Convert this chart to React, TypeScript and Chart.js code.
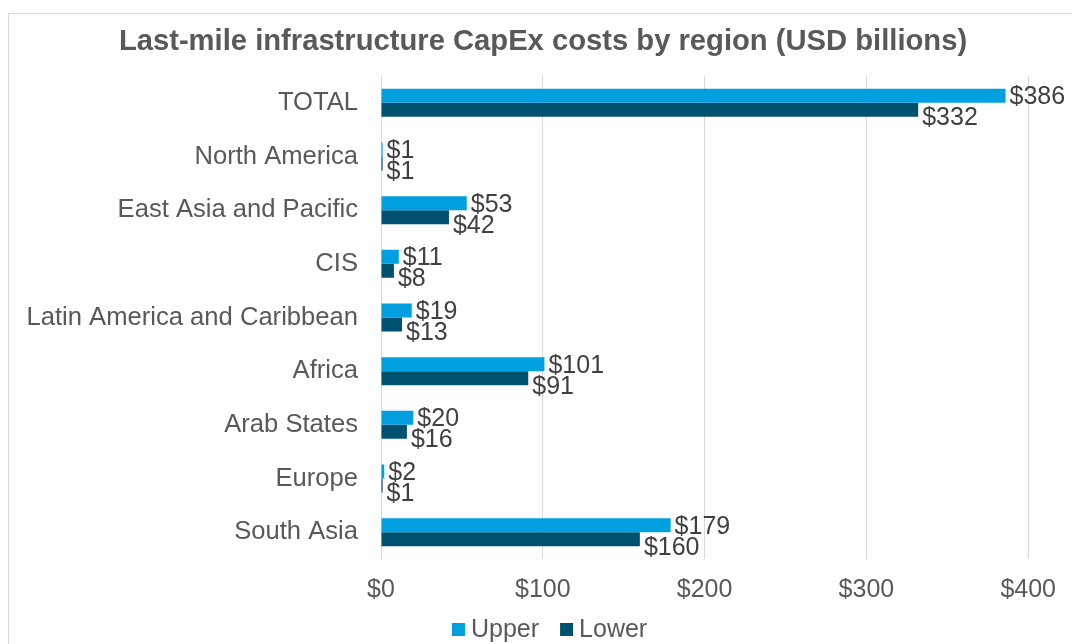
import React, { useEffect, useRef } from "react";
import { Chart, registerables } from "chart.js";

Chart.register(...registerables);

const categories = [
  "TOTAL",
  "North America",
  "East Asia and Pacific",
  "CIS",
  "Latin America and Caribbean",
  "Africa",
  "Arab States",
  "Europe",
  "South Asia",
];
const upperValues = [386, 1, 53, 11, 19, 101, 20, 2, 179];
const lowerValues = [332, 1, 42, 8, 13, 91, 16, 1, 160];
const seriesNames = ["Upper", "Lower"];
const seriesColors = ["#009FDF", "#00506F"];
const chartTitle = "Last-mile infrastructure CapEx costs by region (USD billions)";
const xMin = 0;
const xMax = 400;
const xStep = 100;

const FONT = "'Liberation Sans', Arial, sans-serif";

const framePlugin = {
  id: "frame",
  beforeDraw(chart: any) {
    const ctx = chart.ctx;
    ctx.save();
    ctx.strokeStyle = "#D9D9D9";
    ctx.lineWidth = 1;
    ctx.strokeRect(8.5, 13.5, chart.width + 20, chart.height + 20);
    ctx.font = `bold 29.2px ${FONT}`;
    ctx.fillStyle = "#595959";
    ctx.textAlign = "center";
    ctx.textBaseline = "middle";
    ctx.fillText(chartTitle, 543, 42);
    ctx.restore();
  },
};

const labelPlugin = {
  id: "barLabels",
  afterDatasetsDraw(chart: any) {
    const ctx = chart.ctx;
    ctx.save();
    ctx.font = `25px ${FONT}`;
    ctx.fillStyle = "#404040";
    ctx.textAlign = "left";
    ctx.textBaseline = "middle";
    chart.data.datasets.forEach((ds: any, di: number) => {
      const meta = chart.getDatasetMeta(di);
      const dy = di === 0 ? 1.5 : 8.5;
      meta.data.forEach((bar: any, i: number) => {
        ctx.fillText("$" + ds.data[i], bar.x + 4, bar.y + dy);
      });
    });
    ctx.restore();
  },
};

const legendPlugin = {
  id: "customLegend",
  afterDraw(chart: any) {
    const ctx = chart.ctx;
    ctx.save();
    ctx.font = `25px ${FONT}`;
    ctx.textBaseline = "middle";
    ctx.textAlign = "left";
    let x = 452;
    const y = 630;
    seriesNames.forEach((name, i) => {
      ctx.fillStyle = seriesColors[i];
      ctx.fillRect(x, y - 7, 13, 13);
      ctx.fillStyle = "#595959";
      ctx.fillText(name, x + 19, y);
      x += 19 + ctx.measureText(name).width + 21;
    });
    ctx.restore();
  },
};

export default function App() {
  const ref = useRef<HTMLCanvasElement | null>(null);
  useEffect(() => {
    if (!ref.current) return;
    const chart = new Chart(ref.current, {
      type: "bar",
      data: {
        labels: categories,
        datasets: [
          {
            label: seriesNames[0],
            data: upperValues,
            backgroundColor: seriesColors[0],
            borderWidth: 0,
            barPercentage: 1,
            categoryPercentage: 0.522,
          },
          {
            label: seriesNames[1],
            data: lowerValues,
            backgroundColor: seriesColors[1],
            borderWidth: 0,
            barPercentage: 1,
            categoryPercentage: 0.522,
          },
        ],
      },
      options: {
        indexAxis: "y",
        responsive: false,
        animation: false,
        layout: { padding: { left: 12, right: 40, top: 76, bottom: 0 } },
        plugins: {
          legend: { display: false },
          tooltip: { enabled: false },
          title: { display: false },
        },
        scales: {
          x: {
            min: xMin,
            max: xMax,
            ticks: {
              stepSize: xStep,
              color: "#595959",
              font: { family: FONT, size: 25 },
              padding: 16,
              callback: (v: any) => "$" + v,
            },
            grid: { color: "#D9D9D9", drawTicks: false, tickLength: 0 },
            border: { display: false },
            afterFit: (s: any) => {
              s.height = 85;
            },
          },
          y: {
            ticks: {
              color: "#595959",
              font: { family: FONT, size: 25.6 },
              padding: 23,
            },
            grid: { display: false, drawTicks: false, tickLength: 0 },
            border: { display: true, color: "#D9D9D9", width: 1 },
            afterFit: (s: any) => {
              s.width = 369;
            },
          },
        },
      },
      plugins: [framePlugin, labelPlugin, legendPlugin],
    });
    return () => chart.destroy();
  }, []);
  return (
    <div style={{ position: "absolute", left: 0, top: 0, width: 1072, height: 644, background: "#fff" }}>
      <canvas ref={ref} width={1072} height={644} />
    </div>
  );
}
